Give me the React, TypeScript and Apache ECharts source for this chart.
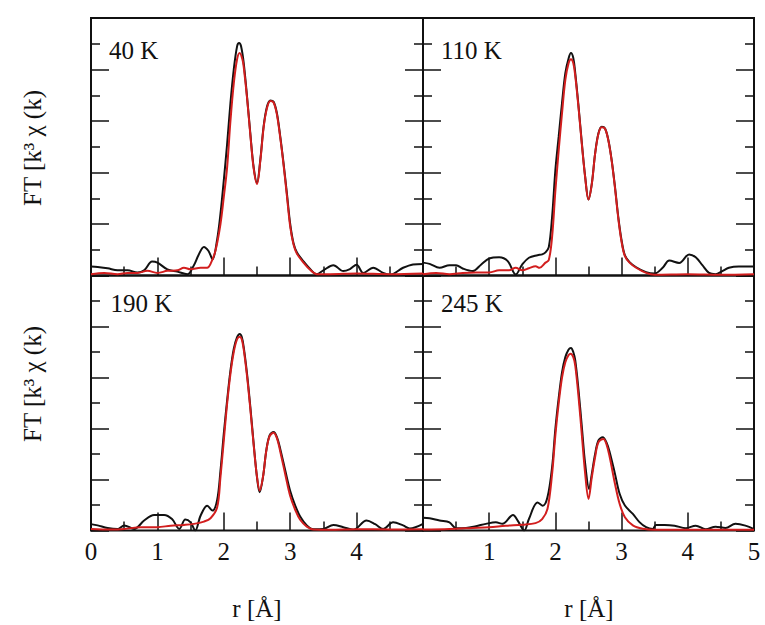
import React, { useEffect, useRef } from 'react';
import * as echarts from 'echarts';

const panelLabels = ['40 K', '110 K', '190 K', '245 K'];
const yAxisTitle = 'FT [k³ χ (k)';
const xAxisTitle = 'r [Å]';
const leftTickLabels = ['0', '1', '2', '3', '4'];
const rightTickLabels = ['1', '2', '3', '4', '5'];

// [r (Å), FT] pairs — measured (black) and fit (red)
const data40K = [[0,0.35],[0.1,0.33],[0.25,0.28],[0.4,0.2],[0.55,0.2],[0.7,0.12],[0.8,0.2],[0.92,0.54],[1.0,0.5],[1.15,0.24],[1.3,0.15],[1.45,0.05],[1.55,0.4],[1.62,0.8],[1.7,1.11],[1.77,0.95],[1.83,0.63],[1.9,1.4],[1.95,2.4],[2.0,3.7],[2.05,5.1],[2.1,6.7],[2.15,8.0],[2.2,8.9],[2.23,9.03],[2.26,8.9],[2.3,8.25],[2.35,6.95],[2.4,5.5],[2.45,4.2],[2.5,3.6],[2.55,4.5],[2.6,5.8],[2.65,6.55],[2.7,6.8],[2.75,6.75],[2.8,6.3],[2.85,5.4],[2.9,4.35],[2.95,3.2],[3.0,2.0],[3.05,1.25],[3.1,0.9],[3.2,0.55],[3.3,0.25],[3.4,0.05],[3.5,0.2],[3.65,0.4],[3.8,0.17],[3.9,0.25],[4.0,0.42],[4.1,0.1],[4.25,0.3],[4.4,0.1],[4.5,0.03],[4.7,0.3],[4.85,0.43],[5.0,0.45]];
const fit40K = [[0,0.05],[0.2,0.1],[0.4,0.05],[0.55,0.1],[0.7,0.1],[0.85,0.18],[1.0,0.1],[1.15,0.18],[1.3,0.2],[1.4,0.3],[1.5,0.24],[1.65,0.3],[1.75,0.3],[1.8,0.45],[1.875,0.97],[1.95,2.0],[2.0,3.05],[2.05,4.2],[2.1,6.0],[2.15,7.45],[2.2,8.4],[2.24,8.64],[2.28,8.4],[2.3,8.1],[2.35,6.9],[2.4,5.45],[2.45,4.15],[2.5,3.55],[2.55,4.45],[2.6,5.75],[2.65,6.5],[2.7,6.78],[2.75,6.72],[2.8,6.25],[2.85,5.35],[2.9,4.3],[2.95,3.1],[3.0,1.9],[3.05,1.2],[3.1,0.85],[3.2,0.5],[3.3,0.22],[3.4,0.05],[3.6,0.05],[4.0,0.08],[4.5,0.05],[5.0,0.08]];

const data110K = [[0,0.5],[0.1,0.45],[0.25,0.3],[0.4,0.4],[0.5,0.4],[0.6,0.27],[0.75,0.17],[0.88,0.43],[1.0,0.66],[1.15,0.71],[1.28,0.56],[1.4,0.04],[1.5,0.43],[1.6,0.69],[1.73,0.79],[1.8,0.82],[1.85,0.9],[1.9,1.1],[1.95,2.27],[2.0,4.1],[2.05,5.4],[2.1,6.7],[2.15,7.86],[2.2,8.44],[2.235,8.64],[2.27,8.45],[2.3,7.86],[2.35,6.56],[2.4,5.13],[2.45,3.83],[2.5,2.95],[2.55,3.57],[2.6,4.74],[2.65,5.52],[2.7,5.78],[2.75,5.71],[2.8,5.26],[2.85,4.48],[2.9,3.44],[2.95,2.27],[3.0,1.36],[3.05,0.78],[3.12,0.52],[3.22,0.32],[3.37,0.13],[3.5,0.08],[3.62,0.3],[3.72,0.58],[3.87,0.49],[4.02,0.82],[4.12,0.71],[4.22,0.4],[4.32,0.1],[4.42,0.05],[4.52,0.17],[4.62,0.3],[4.77,0.35],[5.0,0.35]];
const fit110K = [[0,0.05],[0.2,0.1],[0.4,0.05],[0.6,0.1],[0.8,0.12],[1.0,0.12],[1.15,0.2],[1.3,0.2],[1.4,0.3],[1.5,0.2],[1.6,0.28],[1.7,0.36],[1.76,0.3],[1.85,0.5],[1.9,0.6],[1.95,1.5],[2.0,3.3],[2.05,4.87],[2.1,6.3],[2.15,7.6],[2.2,8.25],[2.235,8.4],[2.27,8.25],[2.3,7.75],[2.35,6.5],[2.4,5.08],[2.45,3.8],[2.5,2.95],[2.55,3.55],[2.6,4.72],[2.65,5.5],[2.7,5.76],[2.75,5.7],[2.8,5.24],[2.85,4.45],[2.9,3.4],[2.95,2.22],[3.0,1.3],[3.05,0.75],[3.12,0.5],[3.22,0.3],[3.37,0.1],[3.5,0.03],[4.0,0.05],[4.5,0.03],[5.0,0.05]];

const data190K = [[0,0.25],[0.1,0.2],[0.25,0.1],[0.4,0.06],[0.5,0.2],[0.65,0.06],[0.8,0.39],[0.95,0.61],[1.1,0.61],[1.22,0.45],[1.33,0.06],[1.42,0.43],[1.5,0.32],[1.57,0.0],[1.65,0.58],[1.75,0.97],[1.83,0.78],[1.9,1.2],[1.95,2.35],[2.0,3.8],[2.05,5.1],[2.1,6.27],[2.15,7.12],[2.2,7.58],[2.24,7.71],[2.27,7.6],[2.3,7.19],[2.35,6.14],[2.4,4.84],[2.45,3.4],[2.5,2.09],[2.54,1.5],[2.59,2.09],[2.64,3.14],[2.69,3.73],[2.75,3.86],[2.8,3.66],[2.85,3.2],[2.93,2.3],[3.0,1.55],[3.08,0.95],[3.15,0.55],[3.25,0.2],[3.35,0.05],[3.5,0.06],[3.65,0.22],[3.8,0.13],[3.95,0.03],[4.15,0.39],[4.28,0.25],[4.4,0.06],[4.55,0.32],[4.7,0.2],[4.8,0.08],[5.0,0.26]];
const fit190K = [[0,0.06],[0.3,0.04],[0.5,0.06],[0.75,0.13],[1.0,0.13],[1.2,0.19],[1.4,0.22],[1.55,0.26],[1.7,0.35],[1.8,0.48],[1.9,0.91],[1.95,2.1],[2.0,3.53],[2.05,4.97],[2.1,6.14],[2.15,7.0],[2.2,7.5],[2.24,7.6],[2.27,7.5],[2.3,7.1],[2.35,6.05],[2.4,4.75],[2.45,3.35],[2.5,2.1],[2.54,1.57],[2.59,2.1],[2.64,3.12],[2.69,3.7],[2.75,3.83],[2.8,3.62],[2.85,3.1],[2.93,2.15],[3.0,1.35],[3.08,0.78],[3.15,0.42],[3.25,0.15],[3.35,0.04],[3.6,0.03],[4.0,0.05],[4.5,0.04],[5.0,0.05]];

const data245K = [[0,0.5],[0.1,0.48],[0.25,0.39],[0.4,0.32],[0.5,0.09],[0.65,0.1],[0.8,0.17],[0.95,0.26],[1.1,0.32],[1.2,0.26],[1.36,0.61],[1.43,0.39],[1.53,0.0],[1.6,0.45],[1.73,1.1],[1.81,0.97],[1.88,1.3],[1.95,2.48],[2.0,4.0],[2.05,5.2],[2.1,6.2],[2.15,6.8],[2.2,7.1],[2.235,7.16],[2.27,7.0],[2.3,6.67],[2.35,5.49],[2.4,4.05],[2.45,2.61],[2.51,1.63],[2.55,2.22],[2.6,3.0],[2.65,3.53],[2.715,3.66],[2.77,3.46],[2.82,3.07],[2.9,2.22],[2.97,1.44],[3.05,0.98],[3.17,0.65],[3.27,0.33],[3.37,0.13],[3.47,0.06],[3.52,0.22],[3.65,0.22],[3.8,0.19],[3.97,0.09],[4.12,0.19],[4.27,0.05],[4.42,0.15],[4.57,0.1],[4.72,0.26],[4.87,0.19],[5.0,0.05]];
const fit245K = [[0,0.04],[0.4,0.06],[0.75,0.1],[1.0,0.13],[1.25,0.19],[1.5,0.23],[1.7,0.29],[1.8,0.45],[1.88,0.84],[1.95,2.22],[2.0,3.75],[2.05,5.0],[2.1,6.0],[2.15,6.6],[2.2,6.88],[2.23,6.93],[2.27,6.8],[2.3,6.47],[2.35,5.23],[2.4,3.73],[2.45,2.22],[2.5,1.24],[2.55,2.09],[2.6,2.88],[2.65,3.46],[2.725,3.59],[2.77,3.4],[2.82,2.88],[2.9,1.83],[2.97,1.05],[3.05,0.52],[3.17,0.2],[3.32,0.07],[3.5,0.03],[4.0,0.03],[5.0,0.03]];

const measured = [data40K, data110K, data190K, data245K];
const fits = [fit40K, fit110K, fit190K, fit245K];

export default function App() {
  const ref = useRef<HTMLDivElement>(null);
  useEffect(() => {
    const chart = echarts.init(ref.current as HTMLDivElement, null, { renderer: 'svg' });
    const font = "'Liberation Serif', 'Times New Roman', serif";
    const ink = '#111';
    const red = '#d21e1e';
    const fs = 25;
    const grids = [
      { left: 91, top: 18, width: 332, height: 257.5 },
      { left: 423, top: 18, width: 331, height: 257.5 },
      { left: 91, top: 275.5, width: 332, height: 255 },
      { left: 423, top: 275.5, width: 331, height: 255 },
    ].map((g) => ({ ...g, show: true, borderColor: ink, borderWidth: 2, backgroundColor: 'transparent' }));

    const tick = { show: true, inside: true, length: 18, lineStyle: { color: ink, width: 1.5 } };
    const minor = { show: true, splitNumber: 2, length: 9, lineStyle: { color: ink, width: 1.5 } };

    const xAxis = grids.map((_, i) => ({
      type: 'value', gridIndex: i, min: 0, max: 5, interval: 1,
      axisLine: { show: false }, axisTick: tick, minorTick: minor,
      splitLine: { show: false }, minorSplitLine: { show: false },
      axisLabel: {
        show: i >= 2, margin: 8, color: ink, fontSize: fs, fontFamily: font,
        showMinLabel: true, showMaxLabel: true,
        formatter: (v: number) => {
          const list = i === 2 ? leftTickLabels : rightTickLabels;
          const s = String(v);
          return list.includes(s) ? s : '';
        },
      },
    }));

    const yAxis: any[] = [];
    grids.forEach((_, i) => {
      ['left', 'right'].forEach((pos) => {
        yAxis.push({
          type: 'value', gridIndex: i, position: pos, min: 0, max: 10, interval: 2,
          axisLine: { show: false }, axisTick: tick, minorTick: minor,
          splitLine: { show: false }, minorSplitLine: { show: false },
          axisLabel: { show: false },
        });
      });
    });

    const series: any[] = [];
    for (let i = 0; i < 4; i++) {
      series.push({
        type: 'line', xAxisIndex: i, yAxisIndex: 2 * i, data: measured[i], smooth: 0.35,
        showSymbol: false, symbol: 'none', z: 2, lineStyle: { color: ink, width: 2 },
      });
      series.push({
        type: 'line', xAxisIndex: i, yAxisIndex: 2 * i, data: fits[i], smooth: 0.35,
        showSymbol: false, symbol: 'none', z: 3, lineStyle: { color: red, width: 2 },
      });
    }

    const labelPos = [[109, 37.6], [441, 37.6], [110.5, 290.6], [441, 290.6]];
    const graphic: any[] = panelLabels.map((t, i) => ({
      type: 'text', x: labelPos[i][0], y: labelPos[i][1],
      style: { text: t, fill: ink, fontSize: fs, fontFamily: font, align: 'left', verticalAlign: 'top' },
    }));
    [148, 384].forEach((cy) => {
      graphic.push({
        type: 'text', x: 32, y: cy, rotation: Math.PI / 2,
        style: { text: yAxisTitle, fill: ink, fontSize: fs, fontFamily: font, align: 'center', verticalAlign: 'middle' },
      });
    });
    [257, 589].forEach((cx) => {
      graphic.push({
        type: 'text', x: cx, y: 608,
        style: { text: xAxisTitle, fill: ink, fontSize: fs, fontFamily: font, align: 'center', verticalAlign: 'middle' },
      });
    });

    chart.setOption({
      animation: false,
      backgroundColor: '#fff',
      grid: grids, xAxis, yAxis, series, graphic,
    });
    return () => chart.dispose();
  }, []);
  return <div ref={ref} style={{ position: 'fixed', left: 0, top: 0, width: 765, height: 625, background: '#fff' }} />;
}
